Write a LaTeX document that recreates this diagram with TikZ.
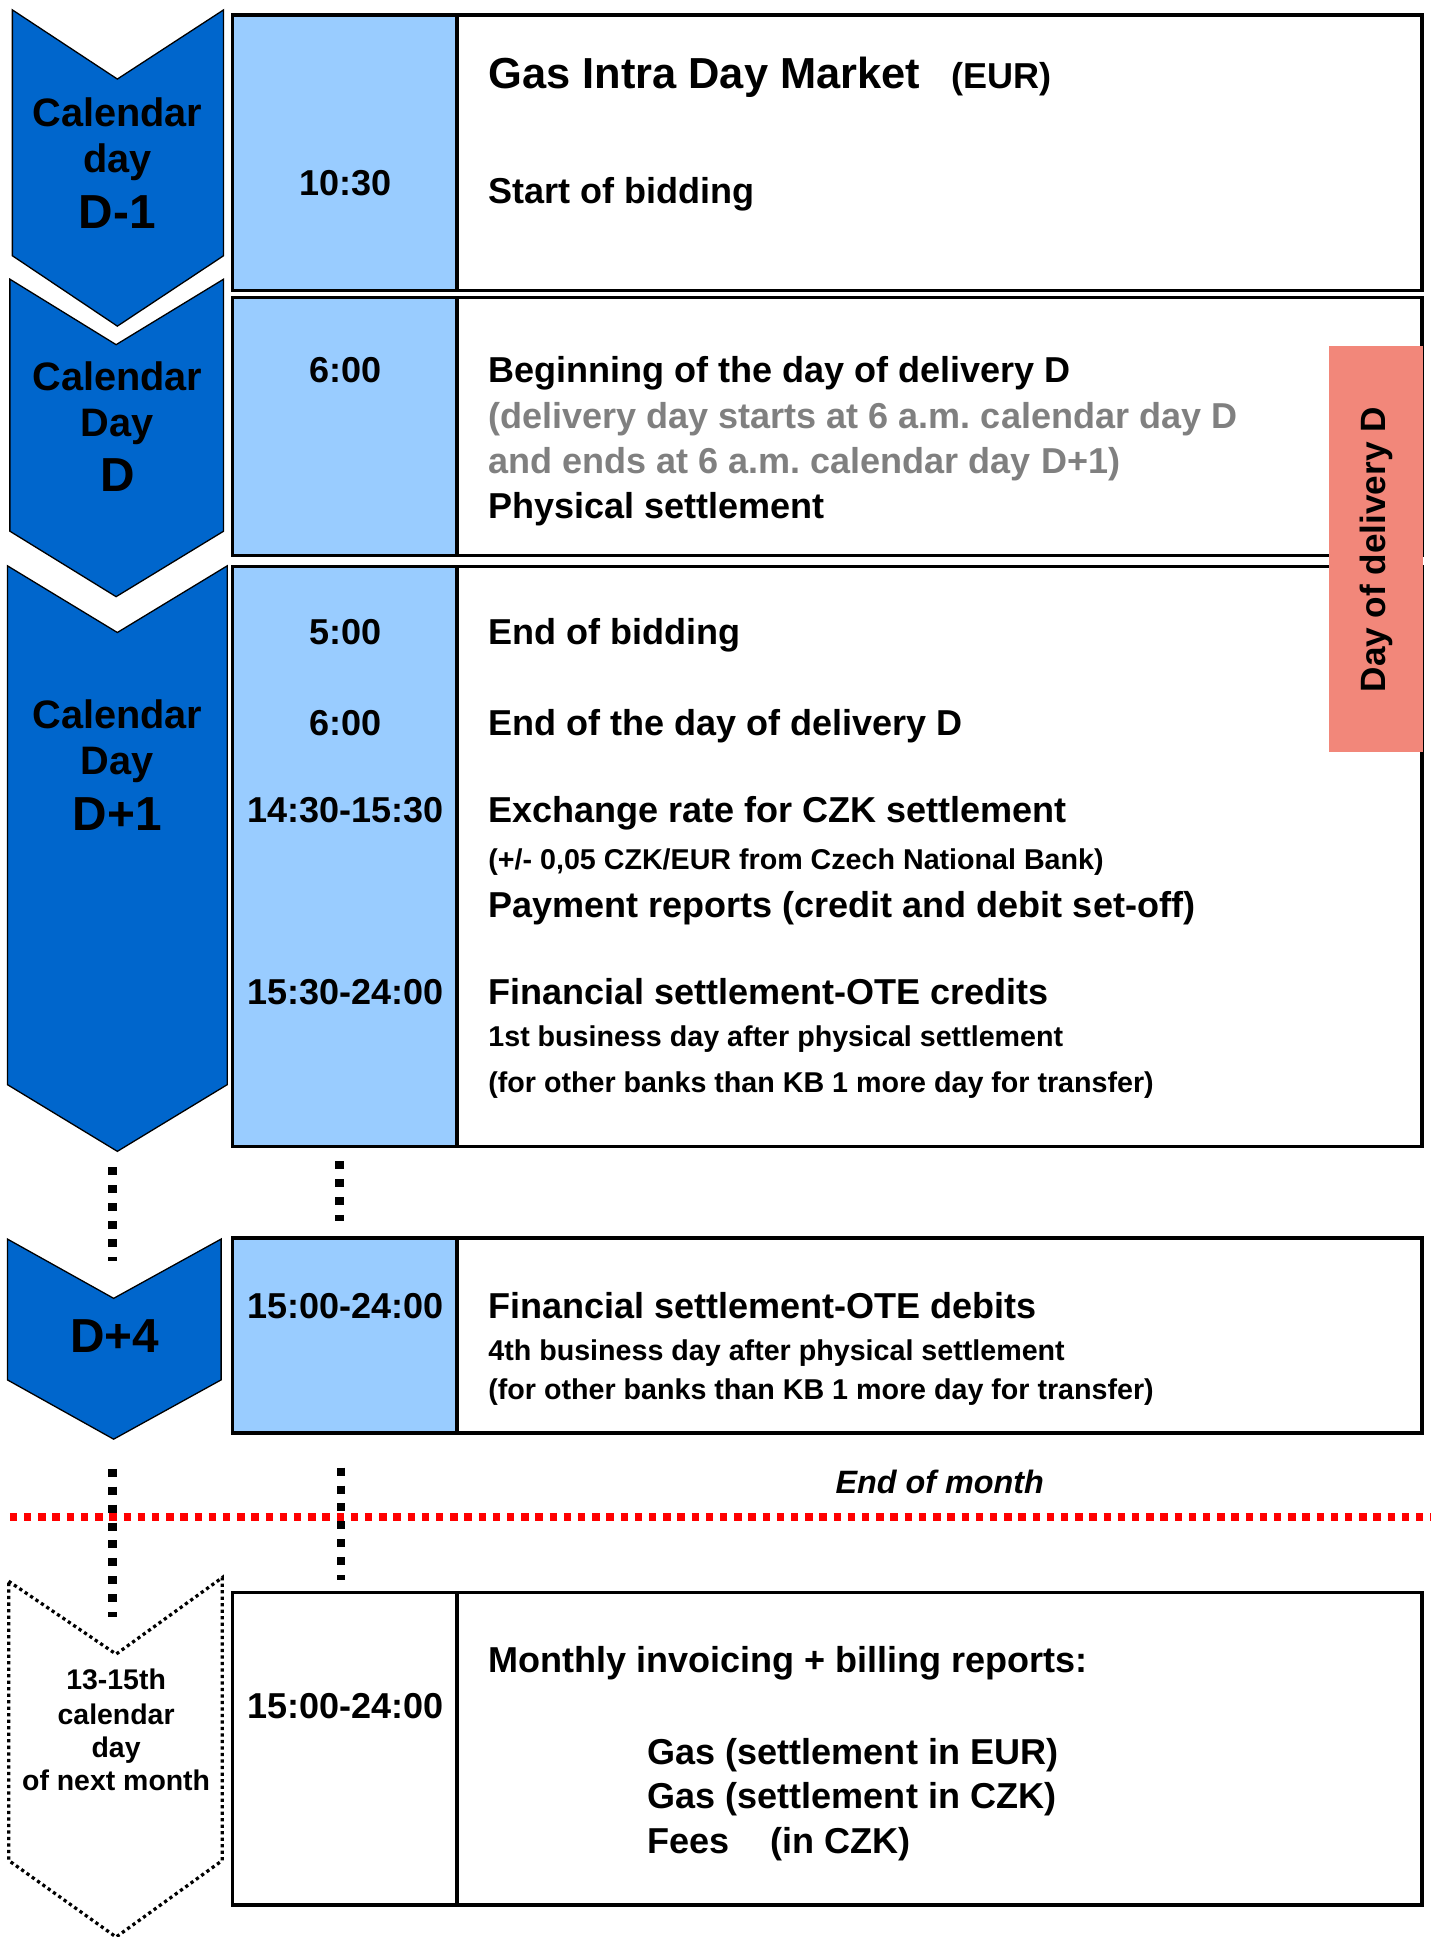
\documentclass[tikz,border=0pt]{standalone}
\usepackage{fontspec}
\setmainfont{Liberation Sans}
\frenchspacing
\definecolor{dayblue}{HTML}{0066CC}
\definecolor{timeblue}{HTML}{99CCFF}
\definecolor{salmon}{HTML}{F2877A}
\definecolor{notegray}{HTML}{808080}
\begin{document}
\begin{tikzpicture}[x=0.02cm,y=-0.02cm,
chev/.style={fill=dayblue, draw=black, line width=0.6pt},
nextchev/.style={draw=black, line width=1.5pt, dash pattern=on 1.5pt off 1.5pt},
frame/.style={draw=black, line width=0.055cm},
tcell/.style={fill=timeblue},
daylbl/.style={inner sep=0pt, anchor=base, font=\fontsize{18.3}{20}\selectfont\bfseries},
daybig/.style={inner sep=0pt, anchor=base, font=\fontsize{22}{24}\selectfont\bfseries},
daysm/.style={inner sep=0pt, anchor=base, font=\fontsize{13.1}{15}\selectfont\bfseries},
tm/.style={inner sep=0pt, anchor=base, font=\fontsize{16.6}{19}\selectfont\bfseries},
ev/.style={inner sep=0pt, anchor=base west, font=\fontsize{16.6}{19}\selectfont\bfseries},
note/.style={inner sep=0pt, anchor=base west, font=\fontsize{13.2}{16}\selectfont\bfseries},
gap/.style={draw=black, line width=0.14cm, dash pattern=on 0.13cm off 0.16cm},
monthline/.style={draw=red, line width=0.12cm, dash pattern=on 0.12cm off 0.11cm}]
\useasboundingbox (0,0) rectangle (1158,1568);
\draw[chev] (10,8) -- (95,64) -- (181,8) -- (181,207) -- (95,264) -- (10,207) -- cycle;
\draw[chev] (8,226) -- (94,279) -- (181,226) -- (181,430) -- (94,483) -- (8,430) -- cycle;
\draw[chev] (6,458) -- (95,512) -- (184,458) -- (184,878) -- (95,932) -- (6,878) -- cycle;
\draw[chev] (6,1003) -- (92,1051) -- (179,1003) -- (179,1117) -- (92,1165) -- (6,1117) -- cycle;
\draw[nextchev] (7,1280) -- (94,1339) -- (180,1277) -- (180,1506) -- (94,1568) -- (7,1506) -- cycle;
\node[daylbl] (day0a) at (95,102){Calendar};
\node[daylbl] (day0b) at (95,140){day};
\node[daybig] (day0c) at (95,185){D-1};
\node[daylbl] (day1a) at (95,316){Calendar};
\node[daylbl] (day1b) at (95,353){Day};
\node[daybig] (day1c) at (95,398){D};
\node[daylbl] (day2a) at (95,590){Calendar};
\node[daylbl] (day2b) at (95,627){Day};
\node[daybig] (day2c) at (95,672){D+1};
\node[daybig] (day3c) at (93,1095){D+4};
\node[daysm] (day4a) at (94,1368){13-15th};
\node[daysm] (day4b) at (94,1396){calendar};
\node[daysm] (day4c) at (94,1423){day};
\node[daysm] (day4d) at (94,1449){of next month};
\fill[tcell] (188,12) rectangle (370,235);
\draw[frame] (188,12) rectangle (1151,235);
\draw[frame] (370,12) -- (370,235);
\fill[tcell] (188,241) rectangle (370,449.5);
\draw[frame] (188,241) rectangle (1151,449.5);
\draw[frame] (370,241) -- (370,449.5);
\fill[tcell] (188,458.5) rectangle (370,928);
\draw[frame] (188,458.5) rectangle (1151,928);
\draw[frame] (370,458.5) -- (370,928);
\fill[tcell] (188,1002) rectangle (370,1160);
\draw[frame] (188,1002) rectangle (1151,1160);
\draw[frame] (370,1002) -- (370,1160);
\draw[frame] (188,1289) rectangle (1151,1542);
\draw[frame] (370,1289) -- (370,1542);
\node[ev, font=\fontsize{20}{24}\selectfont\bfseries] (ttl0) at (395,72){Gas Intra Day Market};
\node[ev] (ttl1) at (770,72){(EUR)};
\node[tm] (tim0) at (280,158){10:30};
\node[ev] (txt0) at (395,165){Start of bidding};
\node[tm] (tim1) at (280,310){6:00};
\node[ev] (txt1) at (395,310){Beginning of the day of delivery D};
\node[ev, notegray] (txt1a) at (395,347){(delivery day starts at 6 a.m. calendar day D};
\node[ev, notegray] (txt1b) at (395,383){and ends at 6 a.m. calendar day D+1)};
\node[ev] (txt1c) at (395,420){Physical settlement};
\node[tm] (tim2) at (280,522){5:00};
\node[ev] (txt2) at (395,522){End of bidding};
\node[tm] (tim3) at (280,595){6:00};
\node[ev] (txt3) at (395,595){End of the day of delivery D};
\node[tm] (tim4) at (280,666){14:30-15:30};
\node[ev] (txt4) at (395,666){Exchange rate for CZK settlement};
\node[note] (txt4a) at (395,704){(+/- 0,05 CZK/EUR from Czech National Bank)};
\node[ev] (txt4b) at (395,743){Payment reports (credit and debit set-off)};
\node[tm] (tim5) at (280,813){15:30-24:00};
\node[ev] (txt5) at (395,813){Financial settlement-OTE credits};
\node[note] (txt5a) at (395,847){1st business day after physical settlement};
\node[note] (txt5b) at (395,884){(for other banks than KB 1 more day for transfer)};
\node[tm] (tim6) at (280,1067){15:00-24:00};
\node[ev] (txt6) at (395,1067){Financial settlement-OTE debits};
\node[note] (txt6a) at (395,1101){4th business day after physical settlement};
\node[note] (txt6b) at (395,1133){(for other banks than KB 1 more day for transfer)};
\node[tm] (tim7) at (280,1391){15:00-24:00};
\node[ev] (txt7) at (395,1354){Monthly invoicing + billing reports:};
\node[ev] (txt7a) at (524,1428){Gas (settlement in EUR)};
\node[ev] (txt7b) at (524,1464){Gas (settlement in CZK)};
\node[ev] (txt7c) at (524,1500){Fees};
\node[ev] (txt7d) at (623,1500){(in CZK)};
\fill[salmon] (1076,280) rectangle (1152,609);
\node[rotate=90, inner sep=0pt, font=\fontsize{16.2}{19}\selectfont\bfseries] (dlv) at (1114,445){Day of delivery D};
\node[inner sep=0pt, anchor=base west, font=\fontsize{14.9}{18}\selectfont\bfseries\itshape] (eom) at (676,1209){End of month};
\coordinate (gap0a) at (91,945);
\coordinate (gap0b) at (91,1021);
\coordinate (gap1a) at (275,940);
\coordinate (gap1b) at (275,988);
\coordinate (gap2a) at (91,1189);
\coordinate (gap2b) at (91,1309);
\coordinate (gap3a) at (276,1188);
\coordinate (gap3b) at (276,1279);
\coordinate (mon0) at (8,1228);
\coordinate (mon1) at (1158,1228);
\draw[monthline] (mon0) -- (mon1);
\draw[gap] (gap0a) -- (gap0b);
\draw[gap] (gap1a) -- (gap1b);
\draw[gap] (gap2a) -- (gap2b);
\draw[gap] (gap3a) -- (gap3b);
\end{tikzpicture}
\end{document}
